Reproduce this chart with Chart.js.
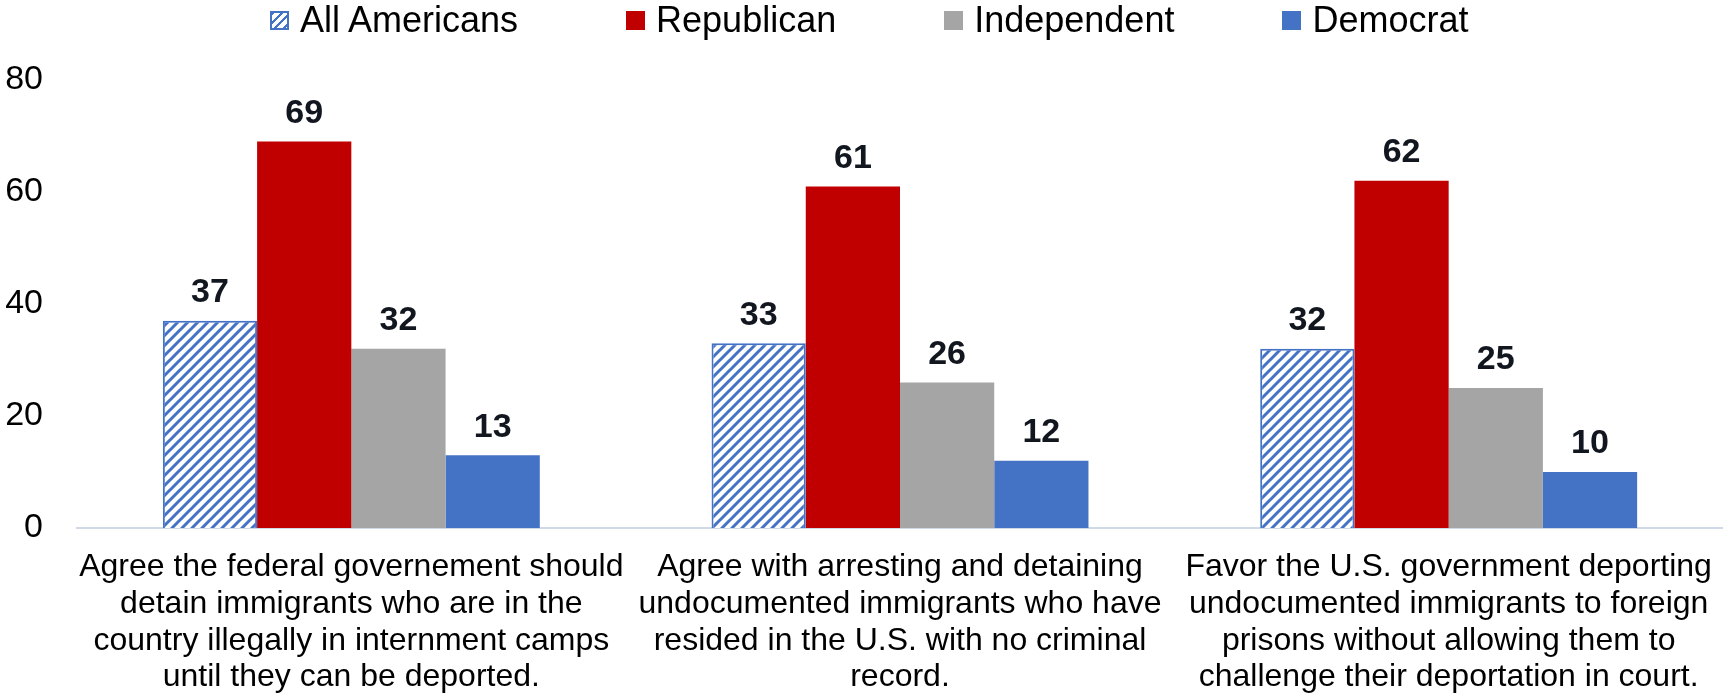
<!DOCTYPE html>
<html>
	<head>
		<meta charset="utf-8">
		<script src="https://cdn.jsdelivr.net/npm/chart.js"></script>
		<title>Immigration attitudes by party</title>
		<style>
			body { margin: 0; background: #fff; }
			.wrap { position: relative; width: 1723px; height: 693px; }
			.legend { position: absolute; top: 0; left: 270px; height: 40px; display: flex; align-items: center;
				font-family: "Liberation Sans", Arial, sans-serif; font-size: 36px; color: #000; }
			.legend .item { display: flex; align-items: center; margin-right: 108px; }
			.legend .box { width: 19px; height: 19px; margin-right: 11px; box-sizing: border-box; }
			.legend .hatch { border: 2px solid #4472C4;
				background: repeating-linear-gradient(135deg, #4472C4 0 2px, #fff 2px 6px); }
		</style>
	</head>
	<body>
		<div class="wrap">
			<canvas id="chart1" width="1723" height="693"></canvas>
			<div class="legend" id="legend"></div>
		</div>

<script>

	// categories (x axis labels, already split in lines)
	var categories = [
		["Agree the federal governement should", "detain immigrants who are in the", "country illegally in internment camps", "until they can be deported."],
		["Agree with arresting and detaining", "undocumented immigrants who have", "resided in the U.S. with no criminal", "record."],
		["Favor the U.S. government deporting", "undocumented immigrants to foreign", "prisons without allowing them to", "challenge their deportation in court."]
	];

	// series
	var seriesNames = ["All Americans", "Republican", "Independent", "Democrat"];
	var allAmericans = [37, 33, 32];
	var republican = [69, 61, 62];
	var independent = [32, 26, 25];
	var democrat = [13, 12, 10];

	// y ticks
	var yTicks = [0, 20, 40, 60, 80];

	var FONT = '"Liberation Sans", Arial, sans-serif';
	var canvas = document.getElementById('chart1');
	var ctx = canvas.getContext('2d');

	//pattern a righe diagonali per "All Americans"
	function makeHatch() {
		var c = document.createElement('canvas');
		c.width = 10; c.height = 10;
		var p = c.getContext('2d');
		p.fillStyle = '#ffffff';
		p.fillRect(0, 0, 10, 10);
		p.strokeStyle = '#4472C4';
		p.lineWidth = 3;
		p.beginPath();
		p.moveTo(0, 10); p.lineTo(10, 0);
		p.moveTo(-5, 5); p.lineTo(5, -5);
		p.moveTo(5, 15); p.lineTo(15, 5);
		p.stroke();
		return ctx.createPattern(c, 'repeat');
	}

	var colors = [makeHatch(), '#C00000', '#A5A5A5', '#4472C4'];
	var values = [allAmericans, republican, independent, democrat];

	var datasets = [];
	for (let i = 0; i < values.length; i++) {
		datasets.push({
			label: seriesNames[i],
			data: values[i],
			backgroundColor: colors[i],
			borderColor: '#4472C4',
			borderWidth: i == 0 ? 2 : 0,
			barPercentage: 1,
			categoryPercentage: 0.687
		});
	}

	// legenda html
	var legendHtml = '';
	for (let i = 0; i < seriesNames.length; i++) {
		var boxStyle = i == 0 ? 'class="box hatch"' : 'class="box" style="background:' + colors[i] + '"';
		legendHtml += '<div class="item"><span ' + boxStyle + '></span><span>' + seriesNames[i] + '</span></div>';
	}
	document.getElementById('legend').innerHTML = legendHtml;

	// etichette sopra le barre
	var valueLabels = {
		id: 'valueLabels',
		afterDatasetsDraw(chart) {
			var c = chart.ctx;
			c.save();
			c.font = 'bold 34px ' + FONT;
			c.fillStyle = '#11161f';
			c.textAlign = 'center';
			c.textBaseline = 'middle';
			chart.data.datasets.forEach((ds, i) => {
				chart.getDatasetMeta(i).data.forEach((bar, j) => {
					c.fillText(ds.data[j], bar.x, bar.y - 28);
				});
			});
			c.restore();
		}
	};

	var chart1 = new Chart(ctx, {
		type: 'bar',
		data: { labels: categories, datasets: datasets },
		plugins: [valueLabels],
		options: {
			responsive: false,
			animation: false,
			layout: { padding: { top: 80, left: 0, right: 0, bottom: 0 } },
			plugins: { legend: { display: false }, tooltip: { enabled: false } },
			scales: {
				x: {
					grid: { display: false, drawTicks: false },
					border: { display: true, color: '#D0DAE6', width: 2 },
					ticks: { color: '#000', font: { family: FONT, size: 32, lineHeight: 1.147 }, padding: 21, maxRotation: 0, autoSkip: false },
					afterFit: function (scale) {
						scale.height = 165;
						scale.paddingLeft = 0; //niente spazio extra per le etichette lunghe
						scale.paddingRight = 0;
					}
				},
				y: {
					min: 0,
					max: 80,
					grid: { display: false, drawTicks: false },
					border: { display: false },
					afterBuildTicks: function (scale) { scale.ticks = yTicks.map(v => ({ value: v })); },
					ticks: { color: '#000', font: { family: FONT, size: 34 }, padding: 34 },
					afterFit: function (scale) { scale.width = 77; }
				}
			}
		}
	});

</script>
	</body>
</html>
